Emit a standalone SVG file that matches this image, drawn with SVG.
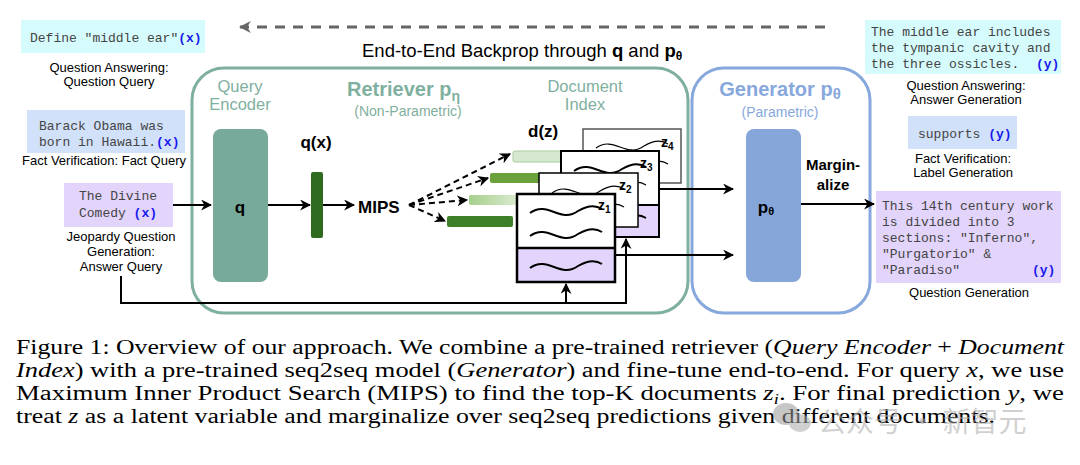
<svg xmlns="http://www.w3.org/2000/svg" width="1080" height="465" viewBox="0 0 1080 465">
<defs>
<style>
.sans{font-family:"Liberation Sans",Arial,sans-serif}
.mono{font-family:"Liberation Mono","Courier New",monospace;font-size:13px;fill:#444}
.var{font-weight:bold;fill:#1a1aee}
.lbl{font-family:"Liberation Sans",Arial,sans-serif;font-size:13px;fill:#000;text-anchor:middle}
.ret{fill:#7fb09f}
.gen{fill:#87a8dc}
.b{font-weight:bold}
.cap{font-family:"Liberation Serif","Times New Roman",serif;font-size:20.5px;fill:#000}
.it{font-style:italic}
.wire{fill:none;stroke:#000;stroke-width:2}
.dash{fill:none;stroke:#000;stroke-width:2;stroke-dasharray:6 4}
.wave{fill:none;stroke:#000;stroke-width:2}
.wavet{fill:none;stroke:#000;stroke-width:1.2}
</style>
<marker id="ah" viewBox="0 0 10 10" refX="9" refY="5" markerWidth="5.5" markerHeight="5.5" orient="auto" markerUnits="strokeWidth">
<path d="M0,0 L10,5 L0,10 L3,5 z" fill="#000"/>
</marker>
<marker id="ahg" viewBox="0 0 10 10" refX="9" refY="5" markerWidth="4" markerHeight="4" orient="auto" markerUnits="strokeWidth">
<path d="M0,0 L10,5 L0,10 L3,5 z" fill="#666"/>
</marker>
<linearGradient id="g2" x1="0" y1="0" x2="1" y2="0">
<stop offset="0" stop-color="#a6cf8c"/>
<stop offset="1" stop-color="#e6f2df"/>
</linearGradient>
</defs>
<rect width="1080" height="465" fill="#fff"/>

<!-- backprop -->
<g id="backprop">
<line x1="825" y1="27" x2="240" y2="27" stroke="#666" stroke-width="3" stroke-dasharray="10 8" marker-end="url(#ahg)"/>
<text x="362" y="57" class="sans" font-size="18.5">End-to-End Backprop through <tspan class="b">q</tspan> and <tspan class="b">p</tspan><tspan class="b" font-size="12" dy="3">θ</tspan></text>
</g>

<!-- left inputs -->
<g id="in-qa">
<rect x="21" y="20" width="184" height="33" fill="#d6fbfd"/>
<text x="30" y="42" class="mono">Define "middle ear"<tspan class="var">(x)</tspan></text>
<text x="109" y="72" class="lbl">Question Answering:</text>
<text x="109" y="86" class="lbl">Question Query</text>
</g>
<g id="in-fv">
<rect x="27" y="110" width="158" height="43" fill="#d2e1fa"/>
<text x="39" y="130" class="mono">Barack Obama was</text>
<text x="39" y="146" class="mono">born in Hawaii.<tspan class="var">(x)</tspan></text>
<text x="104" y="165" class="lbl">Fact Verification: Fact Query</text>
</g>
<g id="in-jq">
<rect x="64" y="183" width="109" height="44" fill="#e2d4fb"/>
<text x="79" y="200" class="mono">The Divine</text>
<text x="79" y="217" class="mono">Comedy <tspan class="var">(x)</tspan></text>
<text x="121" y="241" class="lbl">Jeopardy Question</text>
<text x="121" y="256" class="lbl">Generation:</text>
<text x="121" y="271" class="lbl">Answer Query</text>
</g>

<!-- retriever -->
<g id="retriever">
<rect x="192" y="68" width="496" height="245" rx="32" fill="none" stroke="#7fb09f" stroke-width="3"/>
<text x="240" y="92" class="sans ret" font-size="16.5" text-anchor="middle">Query</text>
<text x="240" y="110" class="sans ret" font-size="16.5" text-anchor="middle">Encoder</text>
<text x="347" y="96" class="sans ret b" font-size="20">Retriever p<tspan font-size="14" dy="5">η</tspan></text>
<text x="408" y="116" class="sans ret" font-size="14" text-anchor="middle">(Non-Parametric)</text>
<text x="585" y="92" class="sans ret" font-size="16.5" text-anchor="middle">Document</text>
<text x="585" y="110" class="sans ret" font-size="16.5" text-anchor="middle">Index</text>
</g>
<g id="q-encoder">
<rect x="213" y="129" width="55" height="153" rx="8" fill="#78aa9c"/>
<text x="240" y="213" class="sans b" font-size="17" text-anchor="middle">q</text>
</g>
<g id="qx">
<rect x="311" y="172" width="12" height="66" rx="2" fill="#2f6b1f"/>
<text x="316" y="148" class="sans b" font-size="17" text-anchor="middle">q(x)</text>
</g>
<g id="mips">
<text x="358" y="213" class="sans b" font-size="17">MIPS</text>
</g>
<g id="dz-bars">
<text x="528" y="137" class="sans b" font-size="17">d(z)</text>
<rect x="513" y="151" width="60" height="11" rx="2" fill="#d6e8d0" stroke="#a9cd9e" stroke-width="1"/>
<rect x="490" y="173" width="60" height="10" rx="2" fill="#6ca23c"/>
<rect x="469" y="195" width="60" height="10" rx="2" fill="url(#g2)"/>
<rect x="447" y="216" width="66" height="11" rx="2" fill="#3e7f29"/>
</g>

<!-- documents -->
<g id="doc-z4">
<rect x="583" y="129" width="98" height="54" fill="#fff" stroke="#555" stroke-width="1.5"/>
<path class="wavet" d="M596,148 C614,135 626,159 644,146 C654,140 662,140 668,144"/>
<path class="wavet" d="M596,168 C614,155 626,179 644,166 C654,160 662,160 668,164"/>
<text x="661" y="147" class="sans b" font-size="14">z<tspan font-size="10" dy="3">4</tspan></text>
</g>
<g id="doc-z3">
<rect x="561" y="151" width="98" height="54" fill="#fff"/>
<rect x="561" y="205" width="98" height="32" fill="#e2d4fb"/>
<rect x="561" y="151" width="98" height="86" fill="none" stroke="#000" stroke-width="2"/>
<line x1="561" y1="205" x2="659" y2="205" stroke="#000" stroke-width="2"/>
<path class="wave" d="M574,171 C592,158 604,182 622,169 C632,163 640,163 646,167"/>
<path class="wavet" d="M574,189 C592,176 604,200 622,187 C632,181 640,181 646,185"/>
<path class="wave" d="M574,222 C592,209 604,233 622,220 C632,214 640,214 646,218"/>
<text x="640" y="168" class="sans b" font-size="14">z<tspan font-size="10" dy="3">3</tspan></text>
</g>
<g id="doc-z2">
<rect x="539" y="173" width="99" height="54" fill="#fff" stroke="#000" stroke-width="1.5"/>
<path class="wavet" d="M552,193 C570,180 582,204 600,191 C610,185 618,185 624,189"/>
<path class="wavet" d="M552,211 C570,198 582,222 600,209 C610,203 618,203 624,207"/>
<text x="619" y="190" class="sans b" font-size="14">z<tspan font-size="10" dy="3">2</tspan></text>
</g>
<g id="doc-z1">
<rect x="517" y="194" width="98" height="54" fill="#fff"/>
<rect x="517" y="248" width="98" height="34" fill="#e2d4fb"/>
<rect x="517" y="194" width="98" height="88" fill="none" stroke="#000" stroke-width="2.5"/>
<line x1="517" y1="248" x2="615" y2="248" stroke="#000" stroke-width="2.5"/>
<path class="wave" d="M530,213 C548,200 560,224 578,211 C588,205 596,205 602,209"/>
<path class="wave" d="M530,236 C548,223 560,247 578,234 C588,228 596,228 602,232"/>
<path class="wave" d="M530,268 C548,255 560,279 578,266 C588,260 596,260 602,264"/>
<text x="598" y="210" class="sans b" font-size="14">z<tspan font-size="10" dy="3">1</tspan></text>
</g>

<!-- generator -->
<g id="generator">
<rect x="692" y="68" width="178" height="245" rx="32" fill="none" stroke="#87a8dc" stroke-width="3"/>
<text x="780" y="96" class="sans gen b" font-size="20" text-anchor="middle">Generator p<tspan font-size="15" dy="3">θ</tspan></text>
<text x="780" y="117" class="sans gen" font-size="14" text-anchor="middle">(Parametric)</text>
</g>
<g id="p-theta">
<rect x="746" y="129" width="55" height="153" rx="8" fill="#86a6da"/>
<text x="766" y="213" class="sans b" font-size="17" text-anchor="middle">p<tspan font-size="11" dy="2">θ</tspan></text>
</g>
<g id="marginalize">
<text x="833" y="170" class="sans b" font-size="15" text-anchor="middle">Margin-</text>
<text x="833" y="190" class="sans b" font-size="15" text-anchor="middle">alize</text>
</g>

<!-- right outputs -->
<g id="out-qa">
<rect x="865" y="20" width="196" height="54" fill="#d6fbfd"/>
<text x="871" y="36" class="mono">The middle ear includes</text>
<text x="871" y="52" class="mono">the tympanic cavity and</text>
<text x="871" y="68" class="mono">the three ossicles.<tspan class="var" x="1036">(y)</tspan></text>
<text x="966" y="90" class="lbl">Question Answering:</text>
<text x="966" y="104" class="lbl">Answer Generation</text>
</g>
<g id="out-fv">
<rect x="908" y="116" width="109" height="33" fill="#d2e1fa"/>
<text x="918" y="138" class="mono">supports <tspan class="var">(y)</tspan></text>
<text x="963" y="163" class="lbl">Fact Verification:</text>
<text x="963" y="177" class="lbl">Label Generation</text>
</g>
<g id="out-jq">
<rect x="876" y="191" width="185" height="92" fill="#e2d4fb"/>
<text x="882" y="210" class="mono">This 14th century work</text>
<text x="882" y="226" class="mono">is divided into 3</text>
<text x="882" y="242" class="mono">sections: "Inferno",</text>
<text x="882" y="258" class="mono">"Purgatorio" &amp;</text>
<text x="882" y="274" class="mono">"Paradiso"<tspan class="var" x="1032">(y)</tspan></text>
<text x="969" y="297" class="lbl">Question Generation</text>
</g>

<!-- connectors -->
<g id="connectors">
<line class="wire" x1="173" y1="205" x2="211" y2="205" marker-end="url(#ah)"/>
<line class="wire" x1="268" y1="205" x2="310" y2="205" marker-end="url(#ah)"/>
<line class="wire" x1="323" y1="205" x2="354" y2="205" marker-end="url(#ah)"/>
<line class="dash" x1="409" y1="205" x2="510" y2="154" marker-end="url(#ah)"/>
<line class="dash" x1="409" y1="205" x2="488" y2="178" marker-end="url(#ah)"/>
<line class="dash" x1="409" y1="205" x2="467" y2="200" marker-end="url(#ah)"/>
<line class="dash" x1="409" y1="205" x2="445" y2="221" marker-end="url(#ah)"/>
<line class="wire" x1="659" y1="189" x2="733" y2="189" marker-end="url(#ah)"/>
<line class="wire" x1="615" y1="255" x2="733" y2="255" marker-end="url(#ah)"/>
<line class="wire" x1="801" y1="204" x2="874" y2="204" marker-end="url(#ah)"/>
<polyline class="wire" points="121,276 121,303 626,303 626,239" marker-end="url(#ah)"/>
<line class="wire" x1="566" y1="303" x2="566" y2="284" marker-end="url(#ah)"/>
</g>

<!-- caption -->
<g id="caption">
<text x="16" y="354" class="cap" textLength="1048" lengthAdjust="spacingAndGlyphs">Figure 1: Overview of our approach. We combine a pre-trained retriever (<tspan class="it">Query Encoder</tspan> + <tspan class="it">Document</tspan></text>
<text x="16" y="377" class="cap" textLength="1048" lengthAdjust="spacingAndGlyphs"><tspan class="it">Index</tspan>) with a pre-trained seq2seq model (<tspan class="it">Generator</tspan>) and fine-tune end-to-end. For query <tspan class="it">x</tspan>, we use</text>
<text x="16" y="400" class="cap" textLength="1048" lengthAdjust="spacingAndGlyphs">Maximum Inner Product Search (MIPS) to find the top-K documents <tspan class="it">z</tspan><tspan class="it" font-size="14" dy="4">i</tspan><tspan dy="-4">. For final prediction </tspan><tspan class="it">y</tspan>, we</text>
<text x="16" y="423" class="cap" textLength="979" lengthAdjust="spacingAndGlyphs">treat <tspan class="it">z</tspan> as a latent variable and marginalize over seq2seq predictions given different documents.</text>
</g>
<g id="watermark" opacity="0.55">
<ellipse cx="786" cy="414" rx="13" ry="11" fill="#999"/>
<ellipse cx="800" cy="423" rx="11" ry="9" fill="#aaa"/>
<text x="818" y="432" font-family="'Noto Sans CJK SC',sans-serif" font-size="28" fill="#aaa">公众号 · 新智元</text>
</g>
</svg>
